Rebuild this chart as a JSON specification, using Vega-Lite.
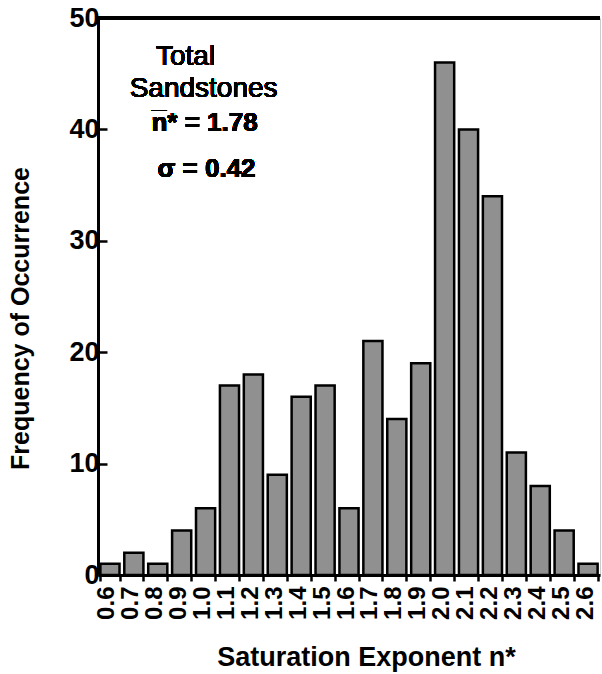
{
  "$schema": "https://vega.github.io/schema/vega-lite/v6.json",
  "width": 502,
  "height": 557,
  "autosize": {"type": "none"},
  "padding": {"left": 98, "top": 18, "right": 2, "bottom": 99},
  "background": "white",
  "config": {"view": {"stroke": "#cccccc", "strokeWidth": 1}, "font": "Liberation Sans"},
  "data": {
    "values": [
      {"n": "0.6", "count": 1}, {"n": "0.7", "count": 2}, {"n": "0.8", "count": 1},
      {"n": "0.9", "count": 4}, {"n": "1.0", "count": 6}, {"n": "1.1", "count": 17},
      {"n": "1.2", "count": 18}, {"n": "1.3", "count": 9}, {"n": "1.4", "count": 16},
      {"n": "1.5", "count": 17}, {"n": "1.6", "count": 6}, {"n": "1.7", "count": 21},
      {"n": "1.8", "count": 14}, {"n": "1.9", "count": 19}, {"n": "2.0", "count": 46},
      {"n": "2.1", "count": 40}, {"n": "2.2", "count": 34}, {"n": "2.3", "count": 11},
      {"n": "2.4", "count": 8}, {"n": "2.5", "count": 4}, {"n": "2.6", "count": 1}
    ]
  },
  "layer": [
    {
      "mark": {"type": "bar", "fill": "#909090", "stroke": "black", "strokeWidth": 2.5},
      "encoding": {
        "x": {
          "field": "n", "type": "ordinal", "sort": null,
          "scale": {"paddingInner": 0.2, "paddingOuter": 0.1},
          "axis": {
            "title": "Saturation Exponent n*",
            "labelAngle": 270,
            "labelFont": "Liberation Sans",
            "labelFontSize": 24,
            "labelFontWeight": "bold",
            "labelColor": "black",
            "labelPadding": 5,
            "labelOffset": -3,
            "tickBand": "extent",
            "tickSize": 6,
            "tickWidth": 2.5,
            "tickColor": "black",
            "domainColor": "black",
            "domainWidth": 3,
            "titleFont": "Liberation Sans",
            "titleFontSize": 27,
            "titleFontWeight": "bold",
            "titleColor": "black",
            "titleBaseline": "alphabetic",
            "titleAlign": "center",
            "titleAnchor": "start",
            "titleX": 268,
            "titleY": 90
          }
        },
        "y": {
          "field": "count", "type": "quantitative",
          "scale": {"domain": [0, 50], "nice": false},
          "axis": {
            "title": "Frequency of Occurrence",
            "values": [0, 10, 20, 30, 40, 50],
            "grid": false,
            "tickSize": -9,
            "tickWidth": 2.5,
            "tickColor": "black",
            "domainColor": "black",
            "domainWidth": 3,
            "labelFont": "Liberation Sans",
            "labelFontSize": 27,
            "labelFontWeight": "bold",
            "labelColor": "black",
            "labelPadding": 8,
            "labelFlush": false,
            "titleFont": "Liberation Sans",
            "titleFontSize": 25,
            "titleFontWeight": "bold",
            "titleColor": "black",
            "titleAngle": 270,
            "titleAlign": "center",
            "titleAnchor": "start",
            "titleX": -65,
            "titleY": 300
          }
        }
      }
    },
    {
      "mark": {"type": "rule", "stroke": "black", "strokeWidth": 3},
      "encoding": {"y": {"datum": 50, "type": "quantitative"}}
    },
    {
      "mark": {"type": "text", "text": "Total", "font": "Liberation Sans", "fontSize": 28, "baseline": "alphabetic", "align": "center", "dx": -20, "color": "black"},
      "encoding": {"x": {"datum": "1.0", "type": "ordinal"}, "y": {"datum": 45.8, "type": "quantitative"}}
    },
    {
      "mark": {"type": "text", "text": "Sandstones", "font": "Liberation Sans", "fontSize": 28, "baseline": "alphabetic", "align": "center", "dx": -2, "color": "black"},
      "encoding": {"x": {"datum": "1.0", "type": "ordinal"}, "y": {"datum": 42.9, "type": "quantitative"}}
    },
    {
      "mark": {"type": "text", "text": "n̅* = 1.78", "font": "Liberation Sans", "fontSize": 26, "fontWeight": "bold", "baseline": "alphabetic", "align": "center", "dx": -1, "color": "black"},
      "encoding": {"x": {"datum": "1.0", "type": "ordinal"}, "y": {"datum": 39.9, "type": "quantitative"}}
    },
    {
      "mark": {"type": "text", "text": "σ = 0.42", "font": "Liberation Sans", "fontSize": 26, "fontWeight": "bold", "baseline": "alphabetic", "align": "center", "dx": 1, "color": "black"},
      "encoding": {"x": {"datum": "1.0", "type": "ordinal"}, "y": {"datum": 35.7, "type": "quantitative"}}
    }
  ]
}
